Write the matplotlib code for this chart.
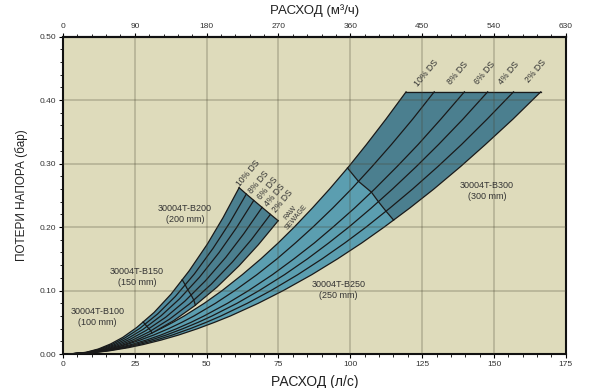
import numpy as np
import matplotlib
matplotlib.use("Agg")
import matplotlib.pyplot as plt
from matplotlib.ticker import MultipleLocator

plt.rcParams['font.family'] = ['Liberation Sans', 'DejaVu Sans']

# ---- data ----
# Large band (30004T-B250 / B300): head loss values and flow for each concentration curve
big_y = [0, 0.002, 0.005, 0.01, 0.015, 0.022, 0.03, 0.04, 0.05, 0.06, 0.08, 0.1,
         0.125, 0.15, 0.175, 0.2, 0.23, 0.26, 0.295, 0.33, 0.37, 0.413]
big_x_10 = [2, 8.1, 12.1, 16.9, 20.6, 25.0, 29.3, 34.1, 38.3, 42.2, 49.2, 55.4,
            62.4, 68.9, 74.9, 80.5, 86.8, 92.8, 99.4, 105.6, 112.4, 119.4]
big_x_8 = [2, 8.6, 12.9, 18.1, 22.2, 26.9, 31.6, 36.8, 41.4, 45.6, 53.1, 59.8,
           67.5, 74.5, 80.9, 87.0, 93.9, 100.4, 107.5, 114.3, 121.7, 129.2]
big_x_6 = [2, 9.1, 13.9, 19.4, 23.8, 29.0, 34.1, 39.6, 44.6, 49.1, 57.3, 64.6,
           72.9, 80.4, 87.5, 94.0, 101.5, 108.5, 116.2, 123.6, 131.5, 139.7]
big_x_4 = [2, 9.5, 14.5, 20.4, 25.1, 30.6, 36.0, 41.8, 47.1, 51.9, 60.6, 68.3,
           77.1, 85.1, 92.5, 99.5, 107.3, 114.7, 122.9, 130.7, 139.2, 147.8]
big_x_2 = [2, 10.0, 15.3, 21.6, 26.5, 32.4, 38.1, 44.3, 49.9, 55.0, 64.2, 72.4,
           81.7, 90.2, 98.1, 105.5, 113.8, 121.7, 130.4, 138.7, 147.6, 156.8]
big_x_raw = [2, 10.5, 16.1, 22.8, 28.0, 34.2, 40.3, 46.9, 52.8, 58.3, 68.0, 76.7,
             86.6, 95.6, 104.0, 111.8, 120.7, 129.1, 138.3, 147.0, 156.6, 166.3]
# B250 -> B300 boundary: head loss on each curve (10%, 8%, 6%, 4%, 2%, raw)
big_cross = [0.293, 0.272, 0.255, 0.240, 0.225, 0.211]

# Small band (30004T-B100 / B150 / B200)
sm_x_10 = [2, 7.9, 12.3, 16.5, 20.8, 25.7, 31.7, 37.6, 43.9, 50.2, 55.7, 61.3]
sm_y_10 = [0, 0.0026, 0.0079, 0.0157, 0.0262, 0.0419, 0.0655, 0.0943, 0.131, 0.1729, 0.2148, 0.262]
sm_x_8 = [2, 8.2, 12.7, 17.1, 21.5, 26.7, 32.9, 39.1, 45.7, 52.2, 58.0, 63.8]
sm_y_8 = [0, 0.0025, 0.0076, 0.0151, 0.0252, 0.0403, 0.063, 0.0907, 0.126, 0.1663, 0.2066, 0.252]
sm_x_6 = [2, 8.4, 13.2, 17.8, 22.4, 27.8, 34.2, 40.6, 47.5, 54.3, 60.3, 66.4]
sm_y_6 = [0, 0.0024, 0.0073, 0.0145, 0.0242, 0.0387, 0.0605, 0.0871, 0.121, 0.1597, 0.1984, 0.242]
sm_x_4 = [2, 8.7, 13.7, 18.5, 23.3, 28.9, 35.7, 42.4, 49.6, 56.7, 62.9, 69.3]
sm_y_4 = [0, 0.0023, 0.0069, 0.0139, 0.0231, 0.037, 0.0578, 0.0832, 0.1155, 0.1525, 0.1894, 0.231]
sm_x_2 = [2, 9.0, 14.2, 19.2, 24.2, 30.1, 37.1, 44.1, 51.6, 59.0, 65.6, 72.2]
sm_y_2 = [0, 0.0022, 0.0066, 0.0132, 0.022, 0.0352, 0.055, 0.0792, 0.11, 0.1452, 0.1804, 0.22]
sm_x_raw = [2, 9.3, 14.6, 19.9, 25.1, 31.2, 38.5, 45.7, 53.5, 61.2, 68.0, 74.9]
sm_y_raw = [0, 0.0021, 0.0063, 0.0126, 0.021, 0.0336, 0.0525, 0.0756, 0.105, 0.1386, 0.1722, 0.21]
sm_cross1 = [0.0505, 0.047, 0.0435, 0.040, 0.0365, 0.033]   # B100 -> B150
sm_cross2 = [0.117, 0.109, 0.101, 0.093, 0.085, 0.077]      # B150 -> B200

conc_labels = ['10% DS', '8% DS', '6% DS', '4% DS', '2% DS']
big_label_x = [126.6, 137.4, 146.9, 155.3, 164.4]
big_label_y = [0.442, 0.443, 0.442, 0.443, 0.445]
sm_label_x = [64.6, 68.1, 71.2, 73.7, 76.5]
sm_label_y = [0.285, 0.271, 0.262, 0.251, 0.241]

pipe_labels = ['30004T-B100\n(100 mm)', '30004T-B150\n(150 mm)', '30004T-B200\n(200 mm)',
               '30004T-B250\n(250 mm)', '30004T-B300\n(300 mm)']
pipe_label_x = [11.9, 25.8, 42.5, 95.8, 147.6]
pipe_label_y = [0.058, 0.121, 0.221, 0.101, 0.257]

x_ticks = [0, 25, 50, 75, 100, 125, 150, 175]
y_ticks = [0.0, 0.1, 0.2, 0.3, 0.4, 0.5]
top_ticks = [0, 90, 180, 270, 360, 450, 540, 630]

# ---- styles ----
BG = '#dedbbb'
DARK = '#4b7f8f'
MID = '#508b9f'
LIGHT = '#5b9eb0'
LINE = '#1a1a1a'

fig = plt.figure(figsize=(6.0, 3.88), dpi=100)
ax = fig.add_axes([0.105, 0.0876, 0.838, 0.818])
ax.set_facecolor(BG)


def segment(xs, ys, y0, y1):
    xs = np.asarray(xs, float); ys = np.asarray(ys, float)
    y1 = min(y1, ys[-1])
    m = (ys > y0) & (ys < y1)
    px = np.concatenate([[np.interp(y0, ys, xs)], xs[m], [np.interp(y1, ys, xs)]])
    py = np.concatenate([[y0], ys[m], [y1]])
    return px, py


def band_region(curves, lo, hi, color, z):
    first = curves[0]; last = curves[-1]
    ax1, ay1 = segment(first[0], first[1], lo[0], hi[0])
    ax2, ay2 = segment(last[0], last[1], lo[-1], hi[-1])
    top_y = [min(h, c[1][-1]) for c, h in zip(curves, hi)]
    top_x = [np.interp(t, c[1], c[0]) for c, t in zip(curves, top_y)]
    bot_x = [np.interp(l, c[1], c[0]) for c, l in zip(curves, lo)]
    bot_y = list(lo)
    px = np.concatenate([ax1, top_x[1:-1], ax2[::-1], bot_x[::-1][1:-1]])
    py = np.concatenate([ay1, top_y[1:-1], ay2[::-1], bot_y[::-1][1:-1]])
    ax.fill(px, py, color=color, lw=0, zorder=z)
    return bot_x, bot_y


big_curves = [(big_x_10, big_y), (big_x_8, big_y), (big_x_6, big_y),
              (big_x_4, big_y), (big_x_2, big_y), (big_x_raw, big_y)]
sm_curves = [(sm_x_10, sm_y_10), (sm_x_8, sm_y_8), (sm_x_6, sm_y_6),
             (sm_x_4, sm_y_4), (sm_x_2, sm_y_2), (sm_x_raw, sm_y_raw)]

n = len(big_curves)
# large band
band_region(big_curves, [0] * n, big_cross, LIGHT, 2)
cx, cy = band_region(big_curves, big_cross, [1] * n, DARK, 2)
for xs, ys in big_curves:
    ax.plot(xs, ys, color=LINE, lw=0.9, zorder=3)
ax.plot(cx, cy, color=LINE, lw=0.9, zorder=3)
ax.plot([big_x_10[-1], big_x_raw[-1]], [big_y[-1], big_y[-1]], color=LINE, lw=0.9, zorder=3)

# small band
band_region(sm_curves, [0] * n, sm_cross1, LIGHT, 4)
c1x, c1y = band_region(sm_curves, sm_cross1, sm_cross2, MID, 4)
c2x, c2y = band_region(sm_curves, sm_cross2, [1] * n, DARK, 4)
for xs, ys in sm_curves:
    ax.plot(xs, ys, color=LINE, lw=0.9, zorder=5)
ax.plot(c1x, c1y, color=LINE, lw=0.9, zorder=5)
ax.plot(c2x, c2y, color=LINE, lw=0.9, zorder=5)
ax.plot([c[0][-1] for c in sm_curves], [c[1][-1] for c in sm_curves], color=LINE, lw=0.9, zorder=5)

# grid (drawn over the bands, semi transparent)
for xv in x_ticks[1:-1]:
    ax.axvline(xv, color=(0.28, 0.27, 0.2, 0.30), lw=1.1, zorder=6)
for yv in y_ticks[1:-1]:
    ax.axhline(yv, color=(0.28, 0.27, 0.2, 0.30), lw=1.1, zorder=6)

# labels
for s, x, y in zip(pipe_labels, pipe_label_x, pipe_label_y):
    ax.text(x, y, s, ha='center', va='center', linespacing=1.35,
            fontsize=6.5, color='#333333', zorder=7)
for s, x, y in zip(conc_labels, big_label_x, big_label_y):
    ax.text(x, y, s, ha='center', va='center', rotation=50, rotation_mode='anchor',
            fontsize=6.3, color='#333333', zorder=7)
for s, x, y in zip(conc_labels, sm_label_x, sm_label_y):
    ax.text(x, y, s, ha='center', va='center', rotation=50, rotation_mode='anchor',
            fontsize=6.2, color='#333333', zorder=7)
ax.text(80.2, 0.219, 'RAW\nSEWAGE', ha='center', va='center', rotation=50,
        rotation_mode='anchor', fontsize=5, color='#333333', linespacing=1.2, zorder=7)

# axes
ax.set_xlim(0, 175)
ax.set_ylim(0, 0.5)
ax.set_xticks(x_ticks)
ax.set_yticks(y_ticks)
ax.set_yticklabels([f'{v:.2f}' for v in y_ticks])
ax.xaxis.set_minor_locator(MultipleLocator(5))
ax.yaxis.set_minor_locator(MultipleLocator(0.02))
ax.tick_params(axis='both', which='major', labelsize=6, labelcolor='#333333', length=3, width=0.8, pad=2)
ax.tick_params(axis='both', which='minor', length=2, width=0.6)
for sp in ax.spines.values():
    sp.set_linewidth(1.5)
    sp.set_color('#111111')

sec = ax.secondary_xaxis('top', functions=(lambda v: v * 3.6, lambda v: v / 3.6))
sec.set_xticks(top_ticks)
sec.xaxis.set_minor_locator(MultipleLocator(18))
sec.tick_params(axis='x', which='major', labelsize=6, labelcolor='#333333', length=3, width=0.8, pad=2)
sec.tick_params(axis='x', which='minor', length=2, width=0.6)
sec.spines['top'].set_linewidth(1.5)

ax.set_xlabel('РАСХОД (л/с)', fontsize=10, color='#222222', labelpad=5)
ax.set_ylabel('ПОТЕРИ НАПОРА (бар)', fontsize=8.5, color='#222222', labelpad=8)
sec.set_xlabel('РАСХОД (м³/ч)', fontsize=9.5, color='#222222', labelpad=6)

fig.savefig('out.png', dpi=100, facecolor='white')
